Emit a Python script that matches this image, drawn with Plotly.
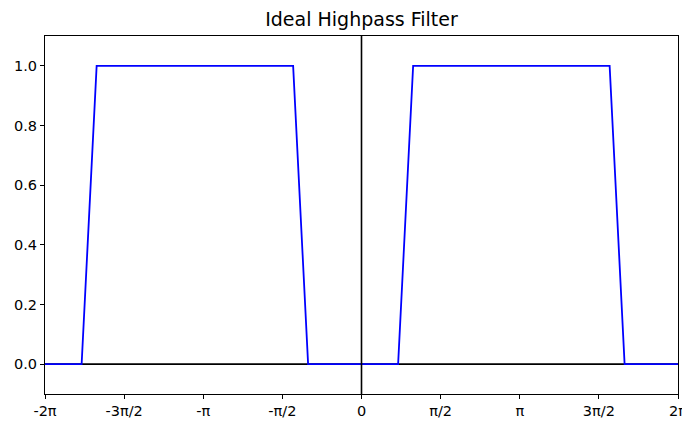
import numpy as np
import plotly.graph_objects as go

# Data
freq = [-2*np.pi, -5.556, -5.258, -1.357, -1.060, 0.727, 1.025, 4.926, 5.223, 2*np.pi]
response = [0, 0, 1, 1, 0, 0, 1, 1, 0, 0]

tick_vals = [-2*np.pi, -1.5*np.pi, -np.pi, -0.5*np.pi, 0, 0.5*np.pi, np.pi, 1.5*np.pi, 2*np.pi]
tick_text = ["-2π", "-3π/2", "-π", "-π/2", "0", "π/2", "π", "3π/2", "2π"]
y_ticks = [0.0, 0.2, 0.4, 0.6, 0.8, 1.0]

x_range = [-2*np.pi, 2*np.pi]
y_range = [-0.1, 1.1]

# page body has an 8px default margin; size the figure to fit the 690x421 window
OFF = 8
W, H = 690 - OFF, 421 - OFF

fig = go.Figure()
# horizontal zero line (below the curve)
fig.add_trace(go.Scatter(x=x_range, y=[0, 0], mode="lines",
                         line=dict(color="black", width=1.6), hoverinfo="skip", showlegend=False))
fig.add_trace(go.Scatter(x=freq, y=response, mode="lines",
                         line=dict(color="#0000ff", width=1.8), showlegend=False))
# vertical zero line
fig.add_trace(go.Scatter(x=[0, 0], y=y_range, mode="lines",
                         line=dict(color="black", width=1.6), hoverinfo="skip", showlegend=False))

font = dict(family="DejaVu Sans", size=14.5, color="black")
fig.update_layout(
    width=W, height=H,
    margin=dict(l=45 - OFF, r=12, t=36 - OFF, b=27, pad=0, autoexpand=False),
    paper_bgcolor="white", plot_bgcolor="white",
    font=font,
    title=dict(text="Ideal Highpass Filter", x=0.5, xref="paper", xanchor="center",
               y=1 - (19 - OFF)/H, yref="container", yanchor="middle", automargin=False,
               font=dict(family="DejaVu Sans", size=19, color="black")),
)

fig.update_xaxes(range=x_range, tickvals=tick_vals, ticktext=tick_text,
                 showgrid=False, zeroline=False, showline=True, mirror=True,
                 linecolor="black", linewidth=1, ticks="outside", ticklen=4,
                 tickcolor="black", tickwidth=1, tickfont=font, automargin=False)
fig.update_yaxes(range=y_range, tickvals=y_ticks, ticktext=[f"{v:.1f}" for v in y_ticks],
                 showgrid=False, zeroline=False, showline=True, mirror=True,
                 linecolor="black", linewidth=1, ticks="outside", ticklen=4,
                 tickcolor="black", tickwidth=1, tickfont=font, automargin=False)

fig.write_html("out.html")
